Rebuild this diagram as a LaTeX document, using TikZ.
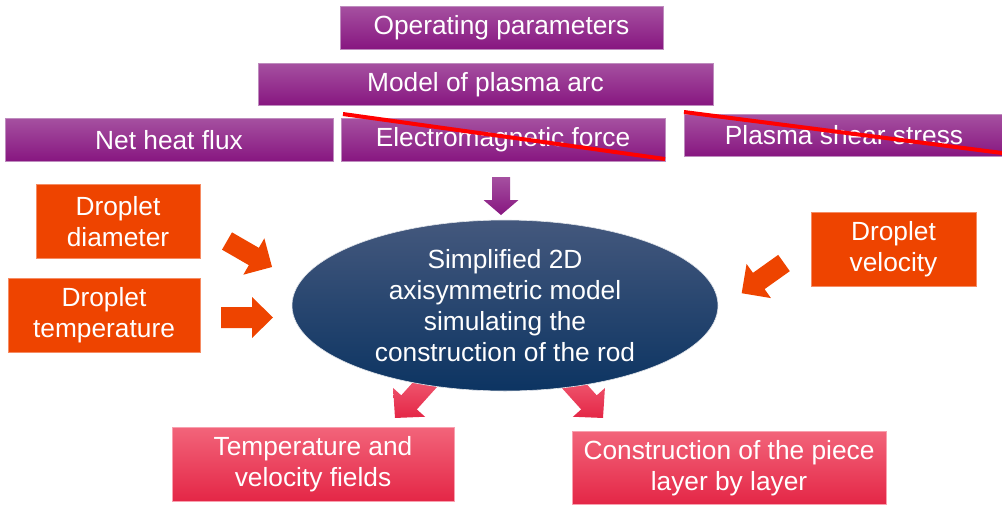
\documentclass[tikz,border=0pt]{standalone}
\usepackage{fontspec}
\setmainfont{Liberation Sans}
\usetikzlibrary{shapes.geometric}
\definecolor{purpTop}{RGB}{165,80,160}
\definecolor{purpBot}{RGB}{135,22,128}
\definecolor{purpEdge}{RGB}{190,140,190}
\definecolor{orangeF}{RGB}{238,68,0}
\definecolor{orangeEdge}{RGB}{245,140,100}
\definecolor{pinkTop}{RGB}{242,100,122}
\definecolor{pinkBot}{RGB}{228,38,70}
\definecolor{pinkEdge}{RGB}{248,160,175}
\definecolor{navyTop}{RGB}{68,88,125}
\definecolor{navyBot}{RGB}{12,52,98}
\newcommand{\barrow}[8]{%
  \shade[#1,shift={(#2,#3)},rotate=#4]
    (0,{-#6/2}) -- ({#5-#8},{-#6/2}) -- ({#5-#8},{-#7/2}) -- (#5,0)
    -- ({#5-#8},{#7/2}) -- ({#5-#8},{#6/2}) -- (0,{#6/2}) -- cycle;}
\tikzset{
  txt/.style={text=white, font=\fontsize{26.3}{31}\selectfont, align=center, inner sep=0pt},
  purplebox/.style={txt, rectangle, top color=purpTop, bottom color=purpBot, draw=purpEdge, line width=0.6pt},
  orangebox/.style={txt, rectangle, fill=orangeF, draw=orangeEdge, line width=0.6pt},
  pinkbox/.style={txt, rectangle, top color=pinkTop, bottom color=pinkBot, draw=pinkEdge, line width=0.6pt},
  centreell/.style={txt, ellipse, top color=navyTop, bottom color=navyBot, draw=white!85!navyTop, line width=0.6pt},
  strike/.style={red, line width=4pt},
  purplearrow/.style={top color=purpTop, bottom color=purpBot},
  orangearrow/.style={top color=orangeF, bottom color=orangeF},
  pinkarrow/.style={top color=pinkTop, bottom color=pinkBot},
}
\begin{document}
\begin{tikzpicture}[x=1pt,y=1pt]
\useasboundingbox (0,0) rectangle (1002,-507);
% top purple boxes
\node[purplebox, minimum width=323pt, minimum height=43pt] (op) at (501.5,-28) {Operating parameters};
\node[purplebox, minimum width=455pt, minimum height=42pt] (arc) at (485.5,-84.5) {Model of plasma arc};
\node[purplebox, minimum width=328pt, minimum height=43pt] (heat) at (169,-140) {Net heat flux};
\node[purplebox, minimum width=324pt, minimum height=43pt] (em) at (503,-140) {Electromagnetic force};
\node[purplebox, minimum width=320pt, minimum height=42pt] (shear) at (844,-135.5) {Plasma shear stress};
\draw[strike] (343,-114) -- (665,-159);
\draw[strike] (684,-112) -- (1002,-153);
% arrows behind the ellipse
\barrow{purplearrow}{501}{-177}{-90}{38}{18}{35}{15}
\barrow{orangearrow}{227}{-241}{-30}{52}{20}{42}{21}
\barrow{orangearrow}{221}{-317.5}{0}{52}{21}{41}{21}
\barrow{orangearrow}{784}{-263}{215.5}{52}{20}{42}{21}
\barrow{pinkarrow}{431.8}{-377.1}{228}{55}{21}{43}{21}
\barrow{pinkarrow}{566.2}{-377.1}{-48}{55}{21}{43}{21}
% centre ellipse
\node[centreell, minimum width=426pt, minimum height=171pt] (sim) at (505,-305.5)
  {\raisebox{-2pt}{\parbox{300pt}{\centering Simplified 2D\\axisymmetric model\\simulating the\\construction of the rod}}};
% orange inputs
\node[orangebox, minimum width=164pt, minimum height=74pt] (dia) at (118,-221.5) {Droplet\\diameter};
\node[orangebox, minimum width=192pt, minimum height=74pt] (temp) at (104,-315.5) {Droplet\\temperature};
\node[orangebox, minimum width=165pt, minimum height=74pt] (vel) at (893.5,-249.5) {Droplet\\velocity};
% outputs
\node[pinkbox, minimum width=282pt, minimum height=74pt] (fields) at (313,-464.5) {Temperature and\\velocity fields};
\node[pinkbox, minimum width=314pt, minimum height=73pt] (piece) at (729,-468) {Construction of the piece\\layer by layer};
\end{tikzpicture}
\end{document}
